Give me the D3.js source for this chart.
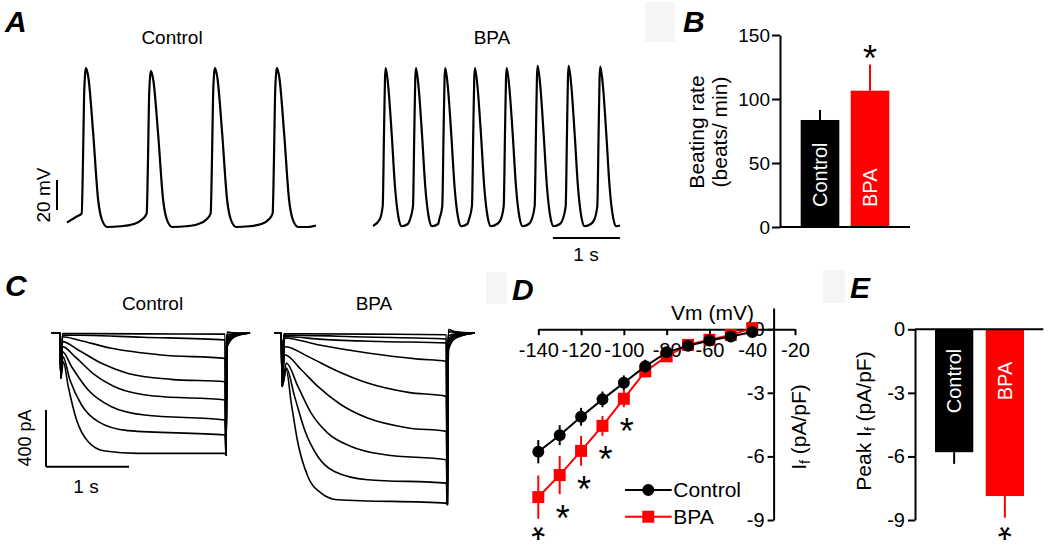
<!DOCTYPE html>
<html>
<head>
<meta charset="utf-8">
<script src="https://cdn.jsdelivr.net/npm/d3@7"></script>
<style>
  body { margin: 0; background: #fff; }
  svg { font-family: "Liberation Sans", Arial, sans-serif; }
</style>
</head>
<body>
<svg id="fig" width="1050" height="549"></svg>
<script>
// ---- A: spontaneous action potentials [time s, mV] ----
var apControl = [
  [0,-62],[0.145,-58],[0.219,-56],[0.239,-20],[0.254,20],[0.272,38],[0.284,41],[0.318,35],[0.39,-2],[0.465,-47],[0.52,-60],[0.60,-65],
  [0.80,-64.5],[1.00,-63],[1.12,-60],
  [1.189,-56],[1.209,-20],[1.224,20],[1.242,36],[1.254,39],[1.288,33],[1.36,-3],[1.435,-47],[1.49,-60],[1.57,-65],
  [1.78,-64.5],[1.96,-63],[2.08,-60],
  [2.144,-56],[2.164,-20],[2.179,20],[2.197,38],[2.209,41],[2.243,35],[2.315,-2],[2.39,-47],[2.445,-60],[2.525,-65],
  [2.72,-64.5],[2.90,-63],[3.01,-60],
  [3.069,-56],[3.089,-20],[3.104,20],[3.122,38],[3.134,41],[3.168,35],[3.24,-2],[3.315,-47],[3.37,-60],[3.45,-65],[3.60,-65],[3.716,-64]
];
var apBPA = [
  [0,-64.3],[0.10,-60],[0.145,-51],[0.164,-3],[0.179,34],[0.19,41],[0.229,28],[0.279,-3],[0.328,-38],[0.378,-58],[0.428,-64.5],[0.52,-63],
  [0.552,-60],[0.597,-51],[0.616,-3],[0.631,34],[0.642,41],[0.681,28],[0.731,-3],[0.78,-38],[0.83,-58],[0.88,-64.5],[0.972,-63],
  [0.989,-60],[1.034,-51],[1.053,-3],[1.068,34],[1.079,41],[1.118,28],[1.168,-3],[1.217,-38],[1.267,-58],[1.317,-64.5],[1.409,-63],
  [1.432,-60],[1.477,-51],[1.496,-3],[1.511,34],[1.522,41],[1.561,28],[1.611,-3],[1.66,-38],[1.71,-58],[1.76,-64.5],[1.852,-63],
  [1.906,-60],[1.951,-51],[1.970,-3],[1.985,34],[1.996,41],[2.035,28],[2.085,-3],[2.134,-38],[2.184,-58],[2.234,-64.5],[2.326,-63],
  [2.368,-60],[2.413,-51],[2.432,-3],[2.447,35],[2.458,42.5],[2.497,29],[2.547,-3],[2.596,-38],[2.646,-58],[2.696,-64.5],[2.788,-63],
  [2.831,-60],[2.876,-51],[2.895,-3],[2.91,35],[2.921,42.5],[2.96,29],[3.01,-3],[3.059,-38],[3.109,-58],[3.159,-64.5],[3.251,-63],
  [3.303,-60],[3.348,-51],[3.367,-3],[3.382,35],[3.393,42],[3.432,29],[3.482,-3],[3.531,-38],[3.581,-58],[3.631,-64.5],[3.687,-64]
];

// ---- B: beating rate ----
var groups = ["Control", "BPA"];
var rateMean = [83.6, 106.5];
var rateSem = [7.8, 20.5];
var rateTicks = [0, 50, 100, 150];

// ---- C: If current families [time s, pA] ----
var ifTracesControl = [
  [[-0.1,0],[0,0],[0.01,-318],[0.03,-4],[1.0,-6],[1.988,-8],[2.0,-860],[2.012,6],[2.1,2],[2.29,0]],
  [[-0.1,0],[0,0],[0.01,-318],[0.03,-14],[1.0,-30],[1.988,-49],[2.0,-860],[2.012,-14],[2.1,-4],[2.29,0]],
  [[-0.1,0],[0,0],[0.01,-318],[0.03,-26],[0.22,-49],[0.62,-108],[1.22,-155],[1.988,-179],[2.0,-860],[2.012,-30],[2.1,-8],[2.29,0]],
  [[-0.1,0],[0,0],[0.01,-318],[0.03,-61],[0.22,-120],[0.5,-214],[0.82,-285],[1.34,-327],[1.988,-344],[2.0,-860],[2.012,-45],[2.1,-12],[2.29,0]],
  [[-0.1,0],[0,0],[0.01,-318],[0.03,-96],[0.18,-167],[0.42,-296],[0.7,-390],[1.14,-445],[1.988,-473],[2.0,-860],[2.012,-60],[2.1,-16],[2.29,0]],
  [[-0.1,0],[0,0],[0.01,-318],[0.03,-132],[0.14,-238],[0.34,-402],[0.62,-520],[1.02,-579],[1.988,-614],[2.0,-860],[2.012,-75],[2.1,-20],[2.29,0]],
  [[-0.1,0],[0,0],[0.01,-318],[0.035,-167],[0.12,-332],[0.26,-508],[0.46,-625],[0.82,-689],[1.988,-720],[2.0,-860],[2.012,-90],[2.1,-24],[2.29,0]],
  [[-0.1,0],[0,0],[0.01,-318],[0.04,-202],[0.1,-379],[0.2,-614],[0.34,-767],[0.54,-833],[0.94,-849],[1.988,-849],[2.0,-860],[2.012,-100],[2.1,-28],[2.29,0]]
];
var ifTracesBPA = [
  [[-0.08,0],[0,0],[0.01,-377],[0.03,-5],[1.0,-8],[1.988,-12],[2.0,-1210],[2.012,25],[2.1,8],[2.33,0]],
  [[-0.08,0],[0,0],[0.01,-377],[0.03,-15],[1.0,-28],[1.988,-42],[2.0,-1210],[2.012,10],[2.1,3],[2.33,0]],
  [[-0.08,0],[0,0],[0.01,-377],[0.03,-25],[0.5,-45],[1.2,-60],[1.988,-70],[2.0,-1210],[2.012,-20],[2.1,-6],[2.33,0]],
  [[-0.08,0],[0,0],[0.01,-377],[0.04,-35],[0.44,-83],[1.04,-141],[1.65,-184],[1.988,-200],[2.0,-1210],[2.012,-40],[2.1,-12],[2.33,0]],
  [[-0.08,0],[0,0],[0.01,-377],[0.04,-95],[0.32,-165],[0.64,-259],[1.04,-353],[1.53,-419],[1.988,-447],[2.0,-1210],[2.012,-60],[2.1,-18],[2.33,0]],
  [[-0.08,0],[0,0],[0.01,-377],[0.04,-153],[0.24,-259],[0.44,-377],[0.72,-506],[1.04,-600],[1.53,-670],[1.988,-694],[2.0,-1210],[2.012,-80],[2.1,-24],[2.33,0]],
  [[-0.08,0],[0,0],[0.01,-377],[0.06,-212],[0.2,-377],[0.36,-565],[0.56,-706],[0.84,-800],[1.25,-859],[1.988,-894],[2.0,-1210],[2.012,-100],[2.1,-30],[2.33,0]],
  [[-0.08,0],[0,0],[0.01,-377],[0.06,-247],[0.16,-447],[0.28,-682],[0.44,-871],[0.64,-977],[1.04,-1035],[1.988,-1059],[2.0,-1210],[2.012,-110],[2.1,-33],[2.33,0]],
  [[-0.08,0],[0,0],[0.01,-377],[0.06,-259],[0.12,-494],[0.2,-776],[0.32,-1012],[0.48,-1129],[0.68,-1176],[1.988,-1200],[2.0,-1210],[2.012,-120],[2.1,-36],[2.33,0]]
];

// ---- D: I-V relation ----
var vm = [-140, -130, -120, -110, -100, -90, -80, -70, -60, -50, -40];
var ifControl = [-5.78, -5.0, -4.13, -3.31, -2.53, -1.75, -1.09, -0.78, -0.53, -0.34, -0.13];
var ifControlSem = [0.55, 0.47, 0.42, 0.37, 0.35, 0.31, 0.2, 0.2, 0.15, 0.12, 0.1];
var ifBPA = [-7.92, -6.88, -5.74, -4.56, -3.28, -1.99, -1.28, -0.74, -0.5, -0.27, 0.05];
var ifBPASem = [1.02, 0.9, 0.7, 0.47, 0.4, 0.27, 0.18, 0.15, 0.12, 0.1, 0.1];
var sigVm = [-140, -130, -120, -110, -100];
var vmTicks = [-140, -120, -100, -80, -60, -40, -20];
var ifTicks = [0, -3, -6, -9];

// ---- E: peak If ----
var peakIf = [-5.8, -7.87];
var peakIfSem = [0.55, 1.02];

var red = "#ff0000";
var colors = ["#000", red];
var svg = d3.select("#fig");

// faint grey boxes left from the original layout
[[645, 2, 30, 40], [486, 272, 21, 32], [823, 270, 22, 33]].forEach(function (r) {
  svg.append("rect").attr("x", r[0]).attr("y", r[1]).attr("width", r[2]).attr("height", r[3]).attr("fill", "#f5f5f5");
});

function label(x, y, str, o) {
  o = o || {};
  var t = svg.append("text").attr("x", x).attr("y", y).text(str)
    .attr("font-size", o.size || 19)
    .attr("text-anchor", o.anchor || "middle")
    .attr("fill", o.fill || "#000");
  if (o.bold) t.attr("font-weight", "bold");
  if (o.italic) t.attr("font-style", "italic");
  if (o.rotate) t.attr("transform", "rotate(-90," + x + "," + y + ")");
  return t;
}
// asterisk centred on (cx, cy); the glyph sits high in its em box, so stars
// near the bottom edge are turned half round to keep the box on the page
function star(cx, cy) {
  var fs = 36;
  var t = label(cx, cy + 0.57 * fs, "*", {size: fs});
  if (cy + 0.8 * fs > 549) t.attr("transform", "rotate(180," + cx + "," + cy + ")");
}
function trace(pts, x, y, w) {
  var line = d3.line().x(function (d) { return x(d[0]); }).y(function (d) { return y(d[1]); })
    .curve(d3.curveMonotoneX);
  svg.append("path").datum(pts).attr("d", line)
    .attr("fill", "none").attr("stroke", "#000").attr("stroke-width", w)
    .attr("stroke-linejoin", "round");
}
function hline(x1, x2, y, color) {
  svg.append("line").attr("x1", x1).attr("x2", x2).attr("y1", y).attr("y2", y)
    .attr("stroke", color || "#000").attr("stroke-width", 2);
}
function vline(x, y1, y2, color) {
  svg.append("line").attr("x1", x).attr("x2", x).attr("y1", y1).attr("y2", y2)
    .attr("stroke", color || "#000").attr("stroke-width", 2);
}
function styleAxis(g, size) {
  g.attr("font-size", size).attr("font-family", '"Liberation Sans", Arial, sans-serif');
  g.selectAll("path, line").attr("stroke", "#000").attr("stroke-width", 2);
  g.selectAll("text").attr("fill", "#000");
}

// panel letters
label(5, 32, "A", {size: 30, bold: true, italic: true, anchor: "start"});
label(683, 32, "B", {size: 30, bold: true, italic: true, anchor: "start"});
label(5, 296, "C", {size: 30, bold: true, italic: true, anchor: "start"});
label(512, 300, "D", {size: 30, bold: true, italic: true, anchor: "start"});
label(850, 298, "E", {size: 30, bold: true, italic: true, anchor: "start"});

// ===== A =====
var xA1 = d3.scaleLinear().domain([0, 1]).range([67, 134]);
var xA2 = d3.scaleLinear().domain([0, 1]).range([373, 440]);
var yA = d3.scaleLinear().domain([-65, 35]).range([227, 77]);
label(172, 44, "Control");
label(492, 44, "BPA");
trace(apControl, xA1, yA, 2.2);
trace(apBPA, xA2, yA, 2.2);
var mv20 = yA(0) - yA(20);
vline(57, 180, 180 + mv20);
label(50, 195, "20 mV", {rotate: true});
hline(xA2(2.685), xA2(3.685), 238);
label(586, 261, "1 s");

// ===== B =====
var yB = d3.scaleLinear().domain([0, 150]).range([227, 35]);
var xB = d3.scaleBand().domain(groups).range([800.7, 889.3]).paddingInner(0.228);
var gB = svg.append("g").attr("transform", "translate(780,0)")
  .call(d3.axisLeft(yB).tickValues(rateTicks).tickSize(8).tickSizeOuter(0).tickPadding(2));
styleAxis(gB, 19);
groups.forEach(function (g, i) {
  var cx = xB(g) + xB.bandwidth() / 2;
  vline(cx, yB(rateMean[i]), yB(rateMean[i] + rateSem[i]), colors[i]);
  svg.append("rect").attr("x", xB(g)).attr("y", yB(rateMean[i]))
    .attr("width", xB.bandwidth()).attr("height", yB(0) - yB(rateMean[i]))
    .attr("fill", colors[i]);
  label(cx + 7, yB(0) - 20, g, {size: 20, fill: "#fff", anchor: "start", rotate: true});
});
hline(780, 910, yB(0));
star(xB("BPA") + xB.bandwidth() / 2, yB(rateMean[1] + rateSem[1]) - 14);
label(703.5, 132, "Beating rate", {size: 21, rotate: true});
label(727, 132, "(beats/ min)", {size: 21, rotate: true});

// ===== C =====
var xC1 = d3.scaleLinear().domain([0, 1]).range([60, 143]);
var xC2 = d3.scaleLinear().domain([0, 1]).range([281.3, 364.3]);
var yC = d3.scaleLinear().domain([0, -400]).range([333, 389.7]);
label(152.5, 310, "Control");
label(374, 310, "BPA");
ifTracesControl.forEach(function (t) { trace(t, xC1, yC, 1.6); });
ifTracesBPA.forEach(function (t) { trace(t, xC2, yC, 1.6); });
var pa400 = yC(-400) - yC(0);
vline(46, 466.7 - pa400, 466.7);
hline(46, 46 + xC1(1) - xC1(0), 466.7);
label(30.5, 438, "400 pA", {size: 18, rotate: true});
label(86, 493, "1 s");

// ===== D =====
var xD = d3.scaleLinear().domain([-140, -20]).range([538.3, 795]);
var yD = d3.scaleLinear().domain([1, -9]).range([308, 520]);
var gDx = svg.append("g").attr("transform", "translate(0," + yD(0) + ")")
  .call(d3.axisBottom(xD).tickValues(vmTicks).tickSize(6).tickSizeOuter(0).tickPadding(8)
    .tickFormat(function (d) { return String(d); }));
styleAxis(gDx, 20);
var gDy = svg.append("g").attr("transform", "translate(" + xD(-30) + ",0)")
  .call(d3.axisLeft(yD).tickValues(ifTicks).tickSize(6).tickSizeOuter(0).tickPadding(3)
    .tickFormat(function (d) { return String(d); }));
styleAxis(gDy, 20);
label(712.5, 320, "Vm (mV)", {size: 21});
var ylD = label(806, 427, "", {size: 21, rotate: true});
ylD.append("tspan").text("I");
ylD.append("tspan").text("f").attr("font-size", 14).attr("dy", 4);
ylD.append("tspan").text(" (pA/pF)").attr("dy", -4);

function series(mean, sem, color, shape) {
  var pts = vm.map(function (v, i) { return [v, mean[i], sem[i]]; });
  svg.append("path").datum(pts)
    .attr("d", d3.line().x(function (d) { return xD(d[0]); }).y(function (d) { return yD(d[1]); }))
    .attr("fill", "none").attr("stroke", color).attr("stroke-width", 2);
  pts.forEach(function (d) {
    vline(xD(d[0]), yD(d[1] + d[2]), yD(d[1] - d[2]), color);
  });
  svg.selectAll(null).data(pts).enter().append("path")
    .attr("transform", function (d) { return "translate(" + xD(d[0]) + "," + yD(d[1]) + ")"; })
    .attr("d", d3.symbol(shape, shape === d3.symbolSquare ? 144 : 113))
    .attr("fill", color);
}
series(ifBPA, ifBPASem, red, d3.symbolSquare);
series(ifControl, ifControlSem, "#000", d3.symbolCircle);
sigVm.forEach(function (v) {
  var i = vm.indexOf(v);
  star(xD(v) + (i === 0 ? 0 : 3), yD(ifBPA[i] - ifBPASem[i]) + 16);
});
// legend
[["Control", "#000", d3.symbolCircle, 490], ["BPA", red, d3.symbolSquare, 516.7]].forEach(function (l) {
  hline(625, 671.7, l[3], l[1]);
  svg.append("path").attr("transform", "translate(648.3," + l[3] + ")")
    .attr("d", d3.symbol(l[2], l[2] === d3.symbolSquare ? 144 : 113)).attr("fill", l[1]);
  label(673.3, l[3] + 7, l[0], {size: 21, anchor: "start"});
});

// ===== E =====
var yE = d3.scaleLinear().domain([0, -9]).range([329.3, 520]);
var xE = d3.scaleBand().domain(groups).range([935, 1024]).paddingInner(0.245);
var gE = svg.append("g").attr("transform", "translate(915,0)")
  .call(d3.axisLeft(yE).tickValues(ifTicks).tickSize(7).tickSizeOuter(0).tickPadding(3)
    .tickFormat(function (d) { return String(d); }));
styleAxis(gE, 20);
groups.forEach(function (g, i) {
  var cx = xE(g) + xE.bandwidth() / 2;
  vline(cx, yE(peakIf[i]), yE(peakIf[i] - peakIfSem[i]), colors[i]);
  svg.append("rect").attr("x", xE(g)).attr("y", yE(0))
    .attr("width", xE.bandwidth()).attr("height", yE(peakIf[i]) - yE(0))
    .attr("fill", colors[i]);
  label(cx + 7, 381, g, {size: 20, fill: "#fff", rotate: true});
});
hline(915, 1043.3, yE(0));
star(xE("BPA") + xE.bandwidth() / 2, yE(peakIf[1] - peakIfSem[1]) + 17);
var ylE = label(871, 421, "", {size: 21, rotate: true});
ylE.append("tspan").text("Peak I");
ylE.append("tspan").text("f").attr("font-size", 14).attr("dy", 4);
ylE.append("tspan").text(" (pA/pF)").attr("dy", -4);
</script>
</body>
</html>
